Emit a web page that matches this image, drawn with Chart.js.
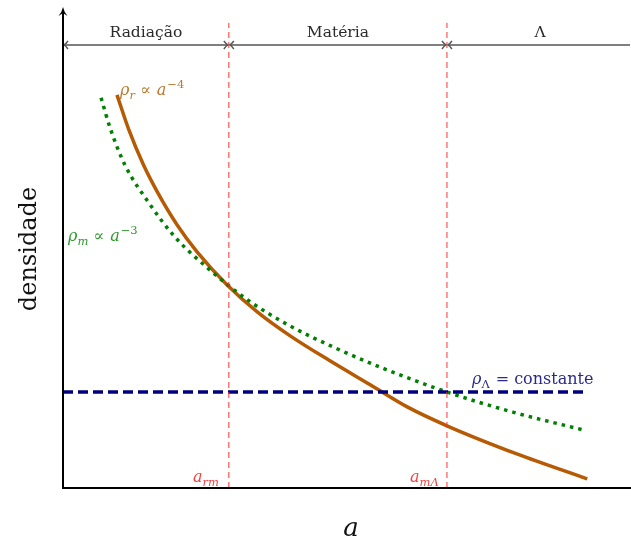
<!DOCTYPE html>
<html>
<head>
<meta charset="utf-8">
<script src="https://cdn.jsdelivr.net/npm/chart.js@4"></script>
<style>
  html, body { margin: 0; padding: 0; background: #fff; }
  #wrap { width: 631px; height: 542px; }
</style>
</head>
<body>
<div id="wrap"><canvas id="densChart" width="631" height="542"></canvas></div>
<script>
// valores (unidades arbitrárias)
const aRad = [0.95, 1.16, 1.41, 1.66, 2.01, 2.36, 2.89, 3.42, 4.00, 4.70, 5.41, 6.06, 6.81, 7.99, 9.23];
const rhoRad = [8.19, 7.46, 6.75, 6.17, 5.48, 4.92, 4.23, 3.67, 3.17, 2.65, 2.15, 1.69, 1.27, 0.71, 0.19];

const aMat = [0.67, 0.83, 1.09, 1.50, 1.97, 2.55, 3.20, 3.96, 4.79, 5.62, 6.76, 7.92, 9.16];
const rhoMat = [8.13, 7.50, 6.73, 5.96, 5.23, 4.58, 3.96, 3.40, 2.92, 2.50, 2.00, 1.58, 1.21];

const aLam = [0, 9.23];
const rhoLam = [2.0, 2.0];

// a_rm e a_mΛ
const aEq = [2.92, 6.76];
const eraNames = ["Radiação", "Matéria", "Λ"];
const eraEdges = [0, 2.92, 6.76, 10];
const eraLevel = 9.23;

const toPts = (xs, ys) => xs.map((v, i) => ({ x: v, y: ys[i] }));

const SERIF = '"DejaVu Serif", "Liberation Serif", serif';

// desenha texto matemático simples (itálico, índices)
function drawMath(ctx, parts, x, y, size, color) {
    ctx.fillStyle = color;
    ctx.textBaseline = "alphabetic";
    ctx.textAlign = "left";
    let cx = x;
    parts.forEach(p => {
        let s = size, dy = 0;
        if (p.pos === "sub") { s = size * 0.72; dy = size * 0.28; }
        if (p.pos === "sup") { s = size * 0.72; dy = -size * 0.45; }
        ctx.font = (p.it ? "italic " : "") + s + "px " + SERIF;
        ctx.fillText(p.t, cx, y + dy);
        cx += ctx.measureText(p.t).width + (p.gap || 0);
    });
}

function arrowHead(ctx, x, y, dir) {
    // pequena ponta estilo LaTeX
    ctx.beginPath();
    ctx.moveTo(x + dir * 4, y - 4);
    ctx.quadraticCurveTo(x + dir * 1.5, y - 0.8, x, y);
    ctx.quadraticCurveTo(x + dir * 1.5, y + 0.8, x + dir * 4, y + 4);
    ctx.stroke();
}

const decor = {
    id: "decor",
    afterDraw(chart) {
        const ctx = chart.ctx;
        const sx = chart.scales.x, sy = chart.scales.y;
        const x0 = sx.getPixelForValue(0), y0 = sy.getPixelForValue(0);
        ctx.save();

        // faixas das eras
        const yt = sy.getPixelForValue(eraLevel);
        ctx.strokeStyle = "#555";
        ctx.lineWidth = 1.4;
        for (let i = 0; i < eraNames.length; i++) {
            const xa = sx.getPixelForValue(eraEdges[i]) + 1;
            const xb = Math.min(sx.getPixelForValue(eraEdges[i + 1]), chart.width) - 1;
            ctx.beginPath();
            ctx.moveTo(xa, yt);
            ctx.lineTo(xb, yt);
            ctx.stroke();
            arrowHead(ctx, xa, yt, 1);
            if (i < eraNames.length - 1) arrowHead(ctx, xb, yt, -1);
            ctx.fillStyle = "#2a2a2a";
            ctx.font = "15.5px " + SERIF;
            ctx.textAlign = "center";
            ctx.textBaseline = "alphabetic";
            const cx = i === 2 ? 540 : (xa + xb) / 2;
            ctx.fillText(eraNames[i], cx, yt - 8);
        }

        // eixos
        ctx.strokeStyle = "#000";
        ctx.fillStyle = "#000";
        ctx.lineWidth = 2;
        ctx.beginPath();
        ctx.moveTo(x0, y0);
        ctx.lineTo(x0, 12);
        ctx.moveTo(x0 - 1, y0);
        ctx.lineTo(chart.width, y0);
        ctx.stroke();
        ctx.beginPath();
        ctx.moveTo(x0, 7);
        ctx.quadraticCurveTo(x0 + 1, 12, x0 + 4.5, 16);
        ctx.lineTo(x0, 13);
        ctx.lineTo(x0 - 4.5, 16);
        ctx.quadraticCurveTo(x0 - 1, 12, x0, 7);
        ctx.fill();

        // títulos dos eixos
        ctx.save();
        ctx.translate(30, 249);
        ctx.rotate(-Math.PI / 2);
        ctx.font = "24px " + SERIF;
        ctx.textAlign = "center";
        ctx.textBaseline = "middle";
        ctx.fillStyle = "#111";
        ctx.fillText("densidade", 0, 0);
        ctx.restore();
        ctx.font = "italic 26px " + SERIF;
        ctx.textAlign = "center";
        ctx.fillStyle = "#111";
        ctx.fillText("a", 351, 536);

        // rótulos das curvas
        drawMath(ctx, [
            { t: "ρ", it: true }, { t: "r", it: true, pos: "sub", gap: 5 },
            { t: "∝", gap: 6 }, { t: "a", it: true, gap: 1 }, { t: "−4", pos: "sup" }
        ], 120, 95, 16, "#c0772c");
        drawMath(ctx, [
            { t: "ρ", it: true }, { t: "m", it: true, pos: "sub", gap: 5 },
            { t: "∝", gap: 6 }, { t: "a", it: true, gap: 1 }, { t: "−3", pos: "sup" }
        ], 68, 241, 16, "#2e9a2e");
        drawMath(ctx, [
            { t: "ρ", it: true }, { t: "Λ", pos: "sub", gap: 6 },
            { t: "=", gap: 5 }, { t: "constante" }
        ], 472, 384, 16, "#2a2a8c");
        drawMath(ctx, [
            { t: "a", it: true }, { t: "rm", it: true, pos: "sub" }
        ], 193, 482, 16, "#f04444");
        drawMath(ctx, [
            { t: "a", it: true }, { t: "mΛ", it: true, pos: "sub" }
        ], 410, 482, 16, "#f04444");

        ctx.restore();
    }
};

const eqSets = aEq.map(v => ({
    data: [{ x: v, y: 0 }, { x: v, y: 9.69 }],
    borderColor: "#ff3333",
    borderWidth: 1,
    borderDash: [6, 4],
    pointRadius: 0,
    showLine: true
}));

const ctx = document.getElementById("densChart").getContext("2d");
const densChart = new Chart(ctx, {
    type: "scatter",
    data: {
        datasets: [
            ...eqSets,
            {
                label: "ρΛ",
                data: toPts(aLam, rhoLam),
                borderColor: "#00007f",
                borderWidth: 3.5,
                borderDash: [10, 5],
                pointRadius: 0,
                showLine: true
            },
            {
                label: "ρm",
                data: toPts(aMat, rhoMat),
                borderColor: "#008000",
                borderWidth: 3.5,
                borderDash: [3.5, 5],
                pointRadius: 0,
                showLine: true,
                cubicInterpolationMode: "monotone"
            },
            {
                label: "ρr",
                data: toPts(aRad, rhoRad),
                borderColor: "#b65a04",
                borderWidth: 3.5,
                pointRadius: 0,
                showLine: true,
                cubicInterpolationMode: "monotone"
            }
        ]
    },
    options: {
        responsive: false,
        animation: false,
        layout: { padding: { left: 63, right: 0, top: 8, bottom: 54 } },
        scales: {
            x: { type: "linear", min: 0, max: 10, display: false },
            y: { type: "linear", min: 0, max: 10, display: false }
        },
        plugins: { legend: { display: false }, tooltip: { enabled: false } }
    },
    plugins: [decor]
});
</script>
</body>
</html>
